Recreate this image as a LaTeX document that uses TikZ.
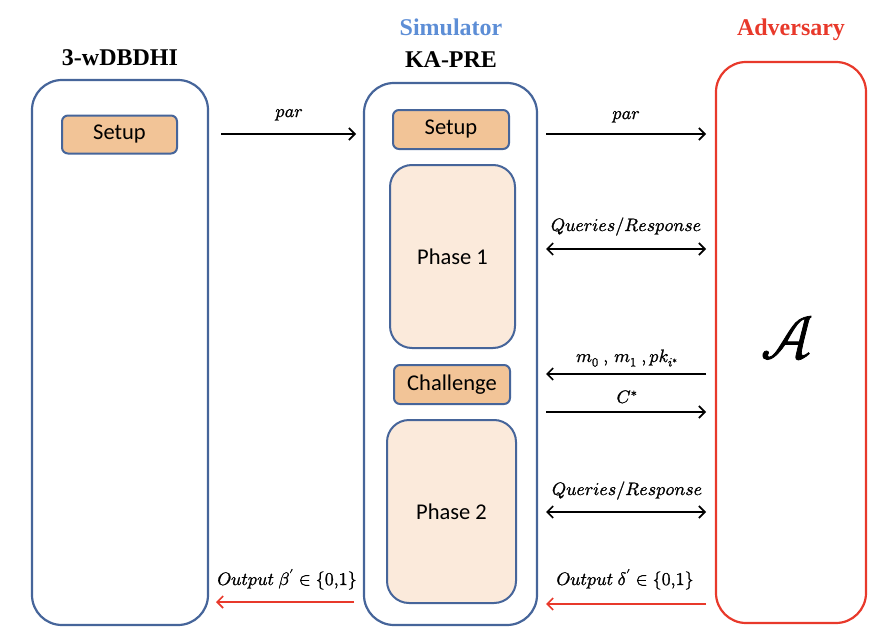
\documentclass[tikz,border=0pt]{standalone}
\usepackage{amsmath}
\usepackage{fontspec}
\usepackage{unicode-math}
\setmainfont{Liberation Serif}
\setmathfont{Latin Modern Math}[FakeBold=1.2]
\newfontfamily\boxfont{Carlito}
\usetikzlibrary{arrows.meta}
\definecolor{bordc}{HTML}{46659A}
\definecolor{setupc}{HTML}{F2C497}
\definecolor{phasec}{HTML}{FBEADB}
\definecolor{redc}{HTML}{E8392B}
\definecolor{simc}{HTML}{5D8ED6}
\tikzset{
  bigbox/.style={draw=bordc, line width=2.2pt, rounded corners=30pt, fill=white},
  smallbox/.style={draw=bordc, line width=2pt, rounded corners=6pt, fill=setupc,
    font=\boxfont\fontsize{22.5}{26}\selectfont, inner sep=0pt},
  phasebox/.style={draw=bordc, line width=2pt, rounded corners=22pt, fill=phasec,
    font=\boxfont\fontsize{22.5}{26}\selectfont, inner sep=0pt},
  titletxt/.style={font=\bfseries\fontsize{24}{28}\selectfont, anchor=base},
  lbl/.style={font=\fontsize{18}{21}\selectfont, anchor=base, inner sep=0pt},
  arr/.style={line width=1.6pt, -{Straight Barb[length=6pt,width=12pt]}},
  darr/.style={line width=1.6pt, {Straight Barb[length=6pt,width=12pt]}-{Straight Barb[length=6pt,width=12pt]}},
  rarr/.style={line width=1.6pt, draw=redc, -{Straight Barb[length=6pt,width=12pt]}},
}
\begin{document}
\begin{tikzpicture}[x=1pt,y=-1pt]
\useasboundingbox (0,0) rectangle (892,642);
% titles
\node[titletxt] (tL) at (120,66) {3-wDBDHI};
\node[titletxt] (tM) at (451,68) {KA-PRE};
\node[titletxt, text=simc] (tS) at (451,36) {Simulator};
\node[titletxt, text=redc] (tA) at (791,36) {Adversary};
% big boxes
\node[bigbox, minimum width=176pt, minimum height=545pt] (Lbox) at (120,352.5) {};
\node[bigbox, minimum width=173pt, minimum height=542pt] (Mbox) at (450.5,354) {};
\node[bigbox, draw=redc, minimum width=150pt, minimum height=561pt] (Abox) at (791,342.5) {};
% inner boxes
\node[smallbox, minimum width=115pt, minimum height=38pt] (Lsetup) at (119.5,134.5) {Setup};
\node[smallbox, minimum width=116pt, minimum height=39pt] (Msetup) at (451,129.5) {Setup};
\node[phasebox, minimum width=125pt, minimum height=183pt] (ph1) at (452.5,256.5) {Phase 1};
\node[smallbox, minimum width=116pt, minimum height=39pt] (chal) at (452,384.5) {Challenge};
\node[phasebox, minimum width=129pt, minimum height=183pt] (ph2) at (451.5,511.5) {Phase 2};
\node[inner sep=0pt, font=\fontsize{62}{62}\selectfont] (A) at (787,338) {$\mathcal{A}$};
% arrow end points
\coordinate (a1s) at (221,134); \coordinate (a1e) at (356,134);
\coordinate (a2s) at (546,134); \coordinate (a2e) at (706,134);
\coordinate (a3s) at (546,249); \coordinate (a3e) at (706,249);
\coordinate (a4s) at (706,374); \coordinate (a4e) at (546,374);
\coordinate (a5s) at (546,412); \coordinate (a5e) at (706,412);
\coordinate (a6s) at (546,512); \coordinate (a6e) at (706,512);
\coordinate (a7s) at (706,604); \coordinate (a7e) at (546,604);
\coordinate (a8s) at (354,602); \coordinate (a8e) at (216,602);
% arrows
\draw[arr] (a1s) -- (a1e);
\draw[arr] (a2s) -- (a2e);
\draw[darr] (a3s) -- (a3e);
\draw[arr] (a4s) -- (a4e);
\draw[arr] (a5s) -- (a5e);
\draw[darr] (a6s) -- (a6e);
\draw[rarr] (a7s) -- (a7e);
\draw[rarr] (a8s) -- (a8e);
% labels
\node[lbl] (l1) at (289,117) {$par$};
\node[lbl] (l2) at (626,119) {$par$};
\node[lbl] (l3) at (626,231) {$Queries/Response$};
\node[lbl] (l4) at (627,362) {$m_0\ ,\, m_1\ ,pk_{i^*}$};
\node[lbl] (l5) at (627,403) {$C^*$};
\node[lbl] (l6) at (627,495) {$Queries/Response$};
\node[lbl] (l7) at (287,585) {$Output\ \beta' \in \{0{,}1\}$};
\node[lbl] (l8) at (625,585) {$Output\ \delta' \in \{0{,}1\}$};
\end{tikzpicture}
\end{document}
